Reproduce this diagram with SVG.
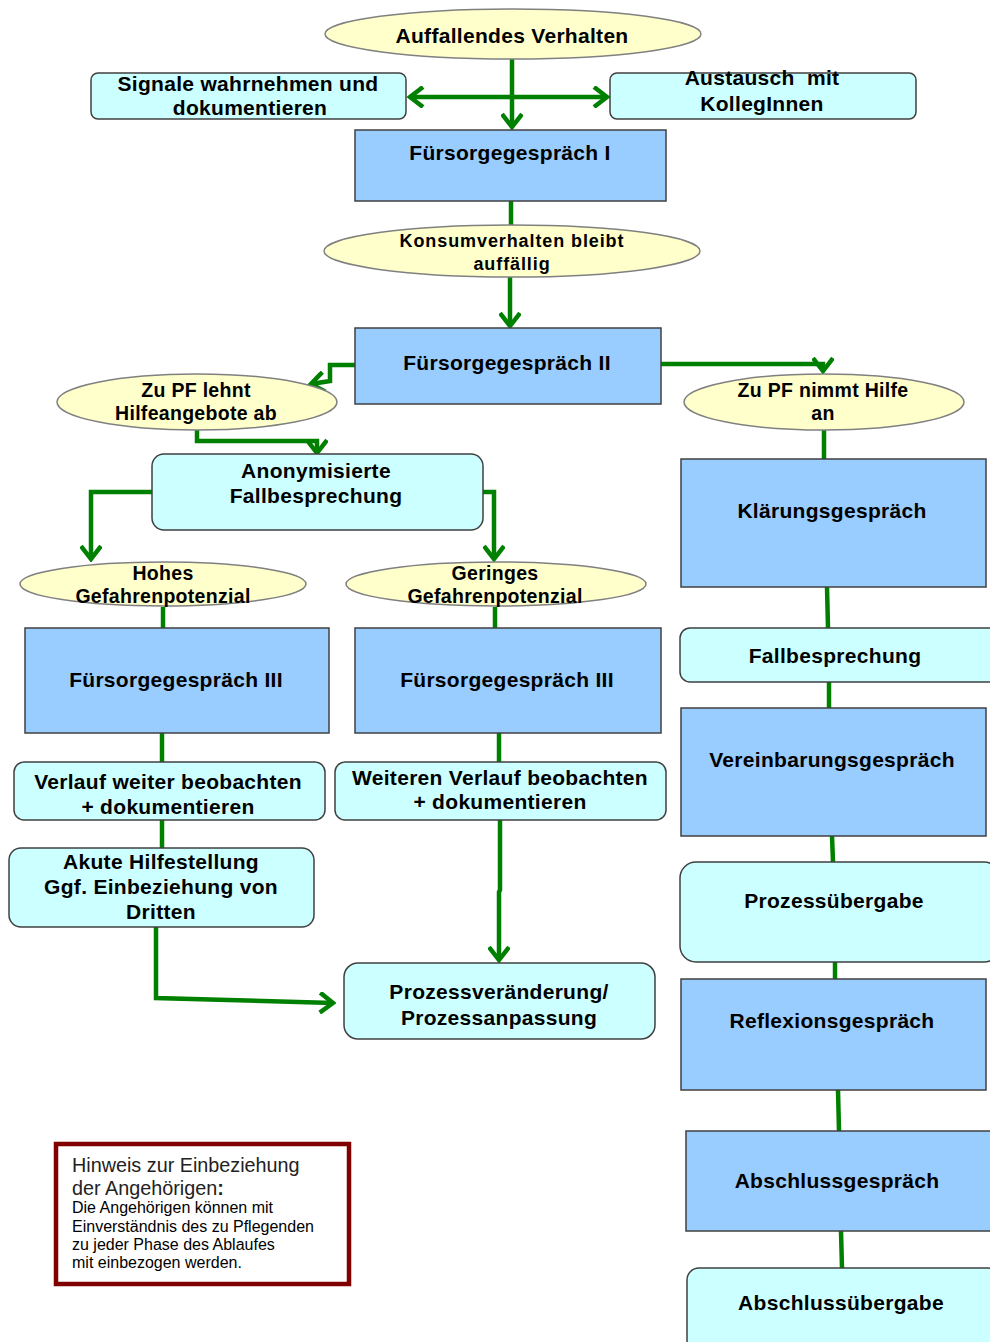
<svg xmlns="http://www.w3.org/2000/svg" width="990" height="1342" viewBox="0 0 990 1342">
<defs>
<style>
.ell{fill:#ffffcc;stroke:#808080;stroke-width:1.5}
.blue{fill:#99ccff;stroke:#404040;stroke-width:1.5}
.cyan{fill:#ccffff;stroke:#404040;stroke-width:1.5}
.t{font-family:"Liberation Sans",Arial,sans-serif;font-weight:bold;font-size:21px;letter-spacing:0.3px;fill:#000;text-anchor:middle}
.s{font-size:19.5px;letter-spacing:0.3px}
.k{font-size:18px;letter-spacing:0.9px}
.c{fill:none;stroke:#008000;stroke-width:4.5;stroke-linejoin:miter}
.n1{font-family:"Liberation Sans",Arial,sans-serif;font-size:19.8px;fill:#222}
.n2{font-family:"Liberation Sans",Arial,sans-serif;font-size:16px;fill:#000}
</style>
<marker id="arr" viewBox="0 0 20 22" refX="17" refY="11" markerWidth="20" markerHeight="22" markerUnits="userSpaceOnUse" orient="auto-start-reverse">
<path d="M4,1 L17,11 L4,21" fill="none" stroke="#008000" stroke-width="4.5"/>
</marker>
</defs>

<g id="connectors">
<path class="c" d="M512,59 V127" marker-end="url(#arr)"/>
<path class="c" d="M410,97 H607" marker-start="url(#arr)" marker-end="url(#arr)"/>
<path class="c" d="M511,201 V226"/>
<path class="c" d="M510,277 V326" marker-end="url(#arr)"/>
<path class="c" d="M355,365 H330 V381 L311,384" marker-end="url(#arr)"/>
<path class="c" d="M197,430 V441 H317 V453" marker-end="url(#arr)"/>
<path class="c" d="M661,364 H823 V371" marker-end="url(#arr)"/>
<path class="c" d="M824,430 V459"/>
<path class="c" d="M152,492 H91 V559" marker-end="url(#arr)"/>
<path class="c" d="M483,492 H494 V559" marker-end="url(#arr)"/>
<path class="c" d="M163,607 V628"/>
<path class="c" d="M495,607 V628"/>
<path class="c" d="M162,733 V762"/>
<path class="c" d="M162,820 V848"/>
<path class="c" d="M499,733 V762"/>
<path class="c" d="M500,820 V890 L499,892 V960" marker-end="url(#arr)"/>
<path class="c" d="M156,927 V998 L333,1003" marker-end="url(#arr)"/>
<path class="c" d="M827,587 L828,628"/>
<path class="c" d="M829,682 V708"/>
<path class="c" d="M832,836 L833,862"/>
<path class="c" d="M835,962 V979"/>
<path class="c" d="M838,1090 L839,1131"/>
<path class="c" d="M841,1231 L842,1268"/>
</g>

<g id="n-auffallend">
<ellipse class="ell" cx="513" cy="34" rx="188" ry="25"/>
<text class="t" x="512" y="43">Auffallendes Verhalten</text>
</g>
<g id="n-signale">
<rect class="cyan" x="91" y="73" width="315" height="46" rx="7"/>
<text class="t" x="248" y="91">Signale wahrnehmen und</text>
<text class="t" x="250" y="115">dokumentieren</text>
</g>
<g id="n-austausch">
<rect class="cyan" x="610" y="73" width="306" height="46" rx="7"/>
<text class="t" x="762" y="85" xml:space="preserve">Austausch  mit</text>
<text class="t" x="762" y="111">KollegInnen</text>
</g>
<g id="n-fg1">
<rect class="blue" x="355" y="130" width="311" height="71"/>
<text class="t" x="510" y="160">Fürsorgegespräch I</text>
</g>
<g id="n-konsum">
<ellipse class="ell" cx="512" cy="251" rx="188" ry="26"/>
<text class="t k" x="512" y="247">Konsumverhalten bleibt</text>
<text class="t k" x="512" y="270">auffällig</text>
</g>
<g id="n-fg2">
<rect class="blue" x="355" y="328" width="306" height="76"/>
<text class="t" x="507" y="370">Fürsorgegespräch II</text>
</g>
<g id="n-lehnt">
<ellipse class="ell" cx="197" cy="402" rx="140" ry="28"/>
<text class="t s" x="196" y="397">Zu PF lehnt</text>
<text class="t s" x="196" y="420">Hilfeangebote ab</text>
</g>
<g id="n-nimmt">
<ellipse class="ell" cx="824" cy="402" rx="140" ry="28"/>
<text class="t s" x="823" y="397">Zu PF nimmt Hilfe</text>
<text class="t s" x="823" y="420">an</text>
</g>
<g id="n-anonym">
<rect class="cyan" x="152" y="454" width="331" height="76" rx="12"/>
<text class="t" x="316" y="478">Anonymisierte</text>
<text class="t" x="316" y="503">Fallbesprechung</text>
</g>
<g id="n-klaerung">
<rect class="blue" x="681" y="459" width="305" height="128"/>
<text class="t" x="832" y="518">Klärungsgespräch</text>
</g>
<g id="n-hohes">
<ellipse class="ell" cx="163" cy="584" rx="143" ry="22"/>
<text class="t s" x="163" y="580">Hohes</text>
<text class="t s" x="163" y="603">Gefahrenpotenzial</text>
</g>
<g id="n-geringes">
<ellipse class="ell" cx="496" cy="584" rx="150" ry="22"/>
<text class="t s" x="495" y="580">Geringes</text>
<text class="t s" x="495" y="603">Gefahrenpotenzial</text>
</g>
<g id="n-fg3a">
<rect class="blue" x="25" y="628" width="304" height="105"/>
<text class="t" x="176" y="687">Fürsorgegespräch III</text>
</g>
<g id="n-fg3b">
<rect class="blue" x="355" y="628" width="306" height="105"/>
<text class="t" x="507" y="687">Fürsorgegespräch III</text>
</g>
<g id="n-fallbesprechung">
<rect class="cyan" x="680" y="628" width="320" height="54" rx="10"/>
<text class="t" x="835" y="663">Fallbesprechung</text>
</g>
<g id="n-verlauf">
<rect class="cyan" x="14" y="762" width="311" height="58" rx="10"/>
<text class="t" x="168" y="789">Verlauf weiter beobachten</text>
<text class="t" x="168" y="814">+ dokumentieren</text>
</g>
<g id="n-weiteren">
<rect class="cyan" x="335" y="762" width="331" height="58" rx="10"/>
<text class="t" x="500" y="785">Weiteren Verlauf beobachten</text>
<text class="t" x="500" y="809">+ dokumentieren</text>
</g>
<g id="n-vereinbarung">
<rect class="blue" x="681" y="708" width="305" height="128"/>
<text class="t" x="832" y="767">Vereinbarungsgespräch</text>
</g>
<g id="n-akute">
<rect class="cyan" x="9" y="848" width="305" height="79" rx="12"/>
<text class="t" x="161" y="869">Akute Hilfestellung</text>
<text class="t" x="161" y="894">Ggf. Einbeziehung von</text>
<text class="t" x="161" y="919">Dritten</text>
</g>
<g id="n-prozessuebergabe">
<rect class="cyan" x="680" y="862" width="320" height="100" rx="16"/>
<text class="t" x="834" y="908">Prozessübergabe</text>
</g>
<g id="n-prozessveraenderung">
<rect class="cyan" x="344" y="963" width="311" height="76" rx="14"/>
<text class="t" x="499" y="999">Prozessveränderung/</text>
<text class="t" x="499" y="1025">Prozessanpassung</text>
</g>
<g id="n-reflexion">
<rect class="blue" x="681" y="979" width="305" height="111"/>
<text class="t" x="832" y="1028">Reflexionsgespräch</text>
</g>
<g id="n-abschlussgespraech">
<rect class="blue" x="686" y="1131" width="310" height="100"/>
<text class="t" x="837" y="1188">Abschlussgespräch</text>
</g>
<g id="n-abschlussuebergabe">
<rect class="cyan" x="687" y="1268" width="313" height="84" rx="12"/>
<text class="t" x="841" y="1310">Abschlussübergabe</text>
</g>
<g id="n-hinweis">
<rect x="56" y="1144" width="293" height="140" fill="#ffffff" stroke="#800000" stroke-width="4.5"/>
<text class="n1" x="72" y="1172">Hinweis zur Einbeziehung</text>
<text class="n1" x="72" y="1195">der Angehörigen<tspan font-weight="bold">:</tspan></text>
<text class="n2" x="72" y="1213">Die Angehörigen können mit</text>
<text class="n2" x="72" y="1232">Einverständnis des zu Pflegenden</text>
<text class="n2" x="72" y="1250">zu jeder Phase des Ablaufes</text>
<text class="n2" x="72" y="1268">mit einbezogen werden.</text>
</g>
</svg>
